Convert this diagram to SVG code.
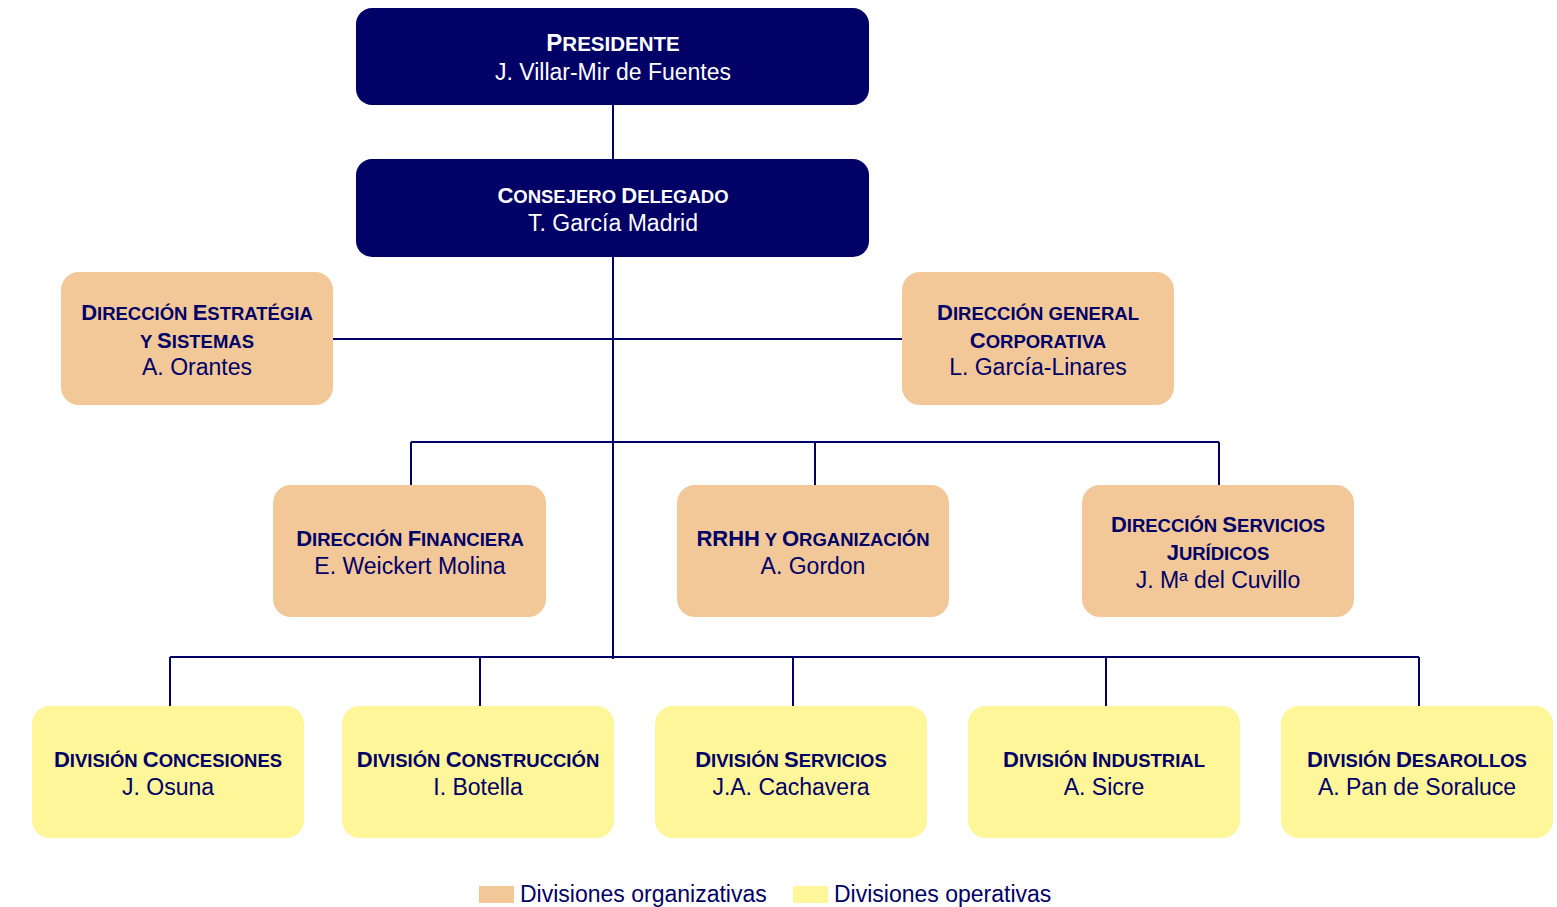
<svg xmlns="http://www.w3.org/2000/svg" width="1557" height="907" viewBox="0 0 1557 907">
<style>
text{font-family:"Liberation Sans",Arial,sans-serif;text-anchor:middle;fill:#000066}
.t{font-weight:bold;font-size:18.5px}
.c{font-size:22px}
.tp{font-size:20.5px}
.cp{font-size:24px}
.n{font-size:23px}
.w{fill:#ffffff}
.dark{fill:#000066}
.org{fill:#F2C899}
.op{fill:#FFF599}
.ln{stroke:#000066;stroke-width:2;fill:none}
.lg{font-size:23px;text-anchor:start}
</style>
<rect width="1557" height="907" fill="#ffffff"/>
<g id="connectors">
<path class="ln" d="M613 105V159M613 257V659M333 339H902M411 442H1219M411 442V485M815 442V485M1219 442V485M170 657H1419M170 657V706M480 657V706M793 657V706M1106 657V706M1419 657V706"/>
</g>
<g id="presidente">
<rect class="dark" x="356" y="8" width="513" height="97" rx="16"/>
<text x="613" y="51" class="t tp w"><tspan class="cp">P</tspan>RESIDENTE</text>
<text x="613" y="80" class="n w">J. Villar-Mir de Fuentes</text>
</g>
<g id="consejero">
<rect class="dark" x="356" y="159" width="513" height="98" rx="16"/>
<text x="613" y="203" class="t w"><tspan class="c">C</tspan>ONSEJERO <tspan class="c">D</tspan>ELEGADO</text>
<text x="613" y="231" class="n w">T. García Madrid</text>
</g>
<g id="estrategia">
<rect class="org" x="61" y="272" width="272" height="133" rx="18"/>
<text x="197" y="320" class="t"><tspan class="c">D</tspan>IRECCIÓN <tspan class="c">E</tspan>STRATÉGIA</text>
<text x="197" y="348" class="t">Y <tspan class="c">S</tspan>ISTEMAS</text>
<text x="197" y="375" class="n">A. Orantes</text>
</g>
<g id="general">
<rect class="org" x="902" y="272" width="272" height="133" rx="18"/>
<text x="1038" y="320" class="t"><tspan class="c">D</tspan>IRECCIÓN GENERAL</text>
<text x="1038" y="348" class="t"><tspan class="c">C</tspan>ORPORATIVA</text>
<text x="1038" y="375" class="n">L. García-Linares</text>
</g>
<g id="financiera">
<rect class="org" x="273" y="485" width="273" height="132" rx="18"/>
<text x="410" y="546" class="t"><tspan class="c">D</tspan>IRECCIÓN <tspan class="c">F</tspan>INANCIERA</text>
<text x="410" y="574" class="n">E. Weickert Molina</text>
</g>
<g id="rrhh">
<rect class="org" x="677" y="485" width="272" height="132" rx="18"/>
<text x="813" y="546" class="t"><tspan class="c">RRHH</tspan> Y <tspan class="c">O</tspan>RGANIZACIÓN</text>
<text x="813" y="574" class="n">A. Gordon</text>
</g>
<g id="juridicos">
<rect class="org" x="1082" y="485" width="272" height="132" rx="18"/>
<text x="1218" y="532" class="t"><tspan class="c">D</tspan>IRECCIÓN <tspan class="c">S</tspan>ERVICIOS</text>
<text x="1218" y="560" class="t"><tspan class="c">J</tspan>URÍDICOS</text>
<text x="1218" y="588" class="n">J. Mª del Cuvillo</text>
</g>
<g id="concesiones">
<rect class="op" x="32" y="706" width="272" height="132" rx="18"/>
<text x="168" y="767" class="t"><tspan class="c">D</tspan>IVISIÓN <tspan class="c">C</tspan>ONCESIONES</text>
<text x="168" y="795" class="n">J. Osuna</text>
</g>
<g id="construccion">
<rect class="op" x="342" y="706" width="272" height="132" rx="18"/>
<text x="478" y="767" class="t"><tspan class="c">D</tspan>IVISIÓN <tspan class="c">C</tspan>ONSTRUCCIÓN</text>
<text x="478" y="795" class="n">I. Botella</text>
</g>
<g id="servicios">
<rect class="op" x="655" y="706" width="272" height="132" rx="18"/>
<text x="791" y="767" class="t"><tspan class="c">D</tspan>IVISIÓN <tspan class="c">S</tspan>ERVICIOS</text>
<text x="791" y="795" class="n">J.A. Cachavera</text>
</g>
<g id="industrial">
<rect class="op" x="968" y="706" width="272" height="132" rx="18"/>
<text x="1104" y="767" class="t"><tspan class="c">D</tspan>IVISIÓN <tspan class="c">I</tspan>NDUSTRIAL</text>
<text x="1104" y="795" class="n">A. Sicre</text>
</g>
<g id="desarollos">
<rect class="op" x="1281" y="706" width="272" height="132" rx="18"/>
<text x="1417" y="767" class="t"><tspan class="c">D</tspan>IVISIÓN <tspan class="c">D</tspan>ESAROLLOS</text>
<text x="1417" y="795" class="n">A. Pan de Soraluce</text>
</g>
<g id="legend">
<rect class="org" x="479" y="886" width="35" height="17"/>
<text x="520" y="902" class="lg">Divisiones organizativas</text>
<rect class="op" x="793" y="886" width="35" height="17"/>
<text x="834" y="902" class="lg">Divisiones operativas</text>
</g>
</svg>
